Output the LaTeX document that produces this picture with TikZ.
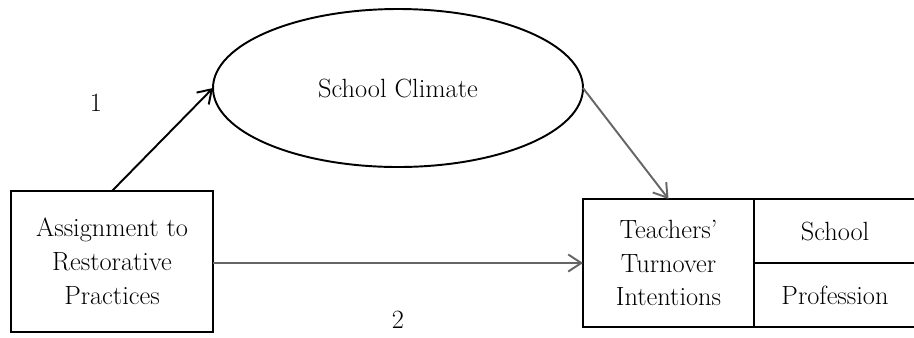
\documentclass[tikz,border=0pt]{standalone}
\usetikzlibrary{positioning, shapes.geometric, arrows.meta}

\begin{document}
\begin{tikzpicture}[
    box/.style={draw, rectangle, line width=1.1pt, align=center, inner sep=0pt, outer sep=0pt, font=\fontsize{15}{19.3}\selectfont},
    oval/.style={draw, ellipse, line width=1.1pt, inner sep=0pt, outer sep=0pt, minimum width=7.4cm, minimum height=3.16cm, font=\fontsize{15}{19.3}\selectfont},
    arrow/.style={-{Straight Barb[length=2.6mm, width=3.4mm]}, line width=1.1pt},
    grayarrow/.style={arrow, draw=black!60},
    lbl/.style={font=\fontsize{15}{19.3}\selectfont}
]
\path[use as bounding box, clip] (0,0) rectangle (18.28,-6.74);

% Nodes
\node[box, minimum width=4.04cm, minimum height=2.82cm] (arp) at (2.24, -5.23) {Assignment to \\ Restorative \\ Practices};
\node[oval] (climate) at (7.96, -1.76) {School Climate};
\node[box, minimum width=3.42cm, minimum height=2.56cm] (tti) at (13.37, -5.26) {Teachers' \\ Turnover \\ Intentions};
\node[box, minimum width=3.24cm, minimum height=1.28cm, anchor=south west] (school) at (tti.east) {School};
\node[box, minimum width=3.24cm, minimum height=1.28cm, anchor=north west] (profession) at (tti.east) {Profession};
\node[lbl] (one) at (1.92, -2.06) {1};
\node[lbl] (two) at (7.96, -6.40) {2};

% Arrows
\draw[arrow] (arp.north) -- (climate.west);
\draw[grayarrow] (climate.east) -- (tti.north);
\draw[grayarrow] (arp.east |- tti.west) -- (tti.west);
\end{tikzpicture}
\end{document}
